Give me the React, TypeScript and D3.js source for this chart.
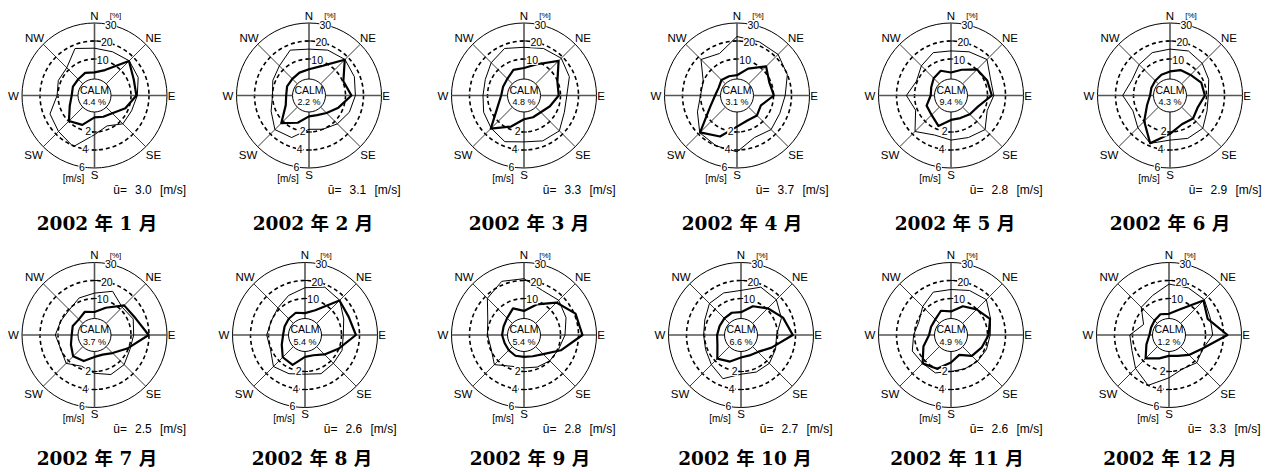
import React from "react";
import * as d3 from "d3";

// 16 compass points, clockwise from north
const DIRECTIONS = ["N", "NNE", "NE", "ENE", "E", "ESE", "SE", "SSE", "S", "SSW", "SW", "WSW", "W", "WNW", "NW", "NNW"];
const AXIS_LABELS = ["N", "NE", "E", "SE", "S", "SW", "W", "NW"];

const YEAR = 2002;
const MONTHS = [1, 2, 3, 4, 5, 6, 7, 8, 9, 10, 11, 12];
const CALM_PCT = [4.4, 2.2, 4.8, 3.1, 9.4, 4.3, 3.7, 5.4, 5.4, 6.6, 4.9, 1.2];
const MEAN_SPEED = ["3.0", "3.1", "3.3", "3.7", "2.8", "2.9", "2.5", "2.6", "2.8", "2.7", "2.6", "3.3"];

// Frequency of occurrence by direction [%]
const freqJan = [2.6, 5.0, 16.8, 13.3, 13.0, 8.3, 3.7, 2.5, 1.9, 7.4, 9.8, 4.6, 2.4, 2.7, 2.5, 3.3];
const freqFeb = [4.3, 7.4, 17.8, 10.4, 13.3, 7.4, 3.5, 1.5, 1.3, 6.1, 11.5, 3.7, 2.4, 2.9, 2.8, 3.5];
const freqMar = [5.0, 8.5, 16.9, 9.8, 9.0, 5.3, 2.9, 2.8, 2.9, 8.4, 15.8, 5.5, 2.4, 2.3, 2.8, 5.1];
const freqApr = [1.0, 5.9, 12.6, 9.1, 10.2, 4.1, 5.4, 4.8, 7.0, 14.4, 18.7, 5.8, 1.9, 0.8, 1.9, 1.3];
const freqMay = [2.5, 5.2, 10.2, 11.5, 12.4, 5.9, 4.5, 3.3, 3.3, 8.0, 5.0, 4.4, 1.0, 1.6, 3.3, 4.6];
const freqJun = [3.1, 5.0, 5.9, 8.5, 9.1, 6.5, 7.8, 7.0, 11.0, 18.5, 10.0, 3.5, 0.8, 0.9, 1.3, 2.2];
const freqJul = [2.5, 6.1, 13.0, 14.3, 19.8, 9.4, 3.9, 1.5, 1.9, 5.4, 6.5, 3.9, 2.4, 2.8, 2.0, 3.7];
const freqAug = [1.9, 4.6, 16.8, 16.0, 18.0, 9.8, 5.0, 1.9, 1.9, 7.7, 7.2, 3.7, 1.9, 2.0, 2.5, 3.1];
const freqSep = [3.1, 8.1, 15.2, 20.7, 22.2, 11.9, 4.8, 2.5, 1.9, 2.2, 1.7, 1.4, 1.9, 2.0, 3.0, 5.7];
const freqOct = [2.4, 7.0, 10.7, 15.0, 18.5, 8.1, 3.0, 2.0, 2.2, 5.7, 8.3, 3.9, 3.0, 2.6, 2.8, 3.1];
const freqNov = [2.8, 7.0, 9.8, 13.2, 10.6, 8.1, 6.1, 1.7, 5.0, 10.0, 12.0, 6.3, 1.9, 1.7, 2.0, 4.3];
const freqDec = [1.5, 5.0, 16.8, 13.0, 22.2, 9.6, 5.4, 2.3, 1.3, 3.8, 8.1, 3.3, 0.6, 0.5, 1.1, 2.2];

// Mean wind speed by direction [m/s]
const speedJan = [3.2, 3.2, 3.4, 3.2, 2.7, 2.4, 2.4, 1.6, 2.3, 4.1, 3.6, 3.3, 2.1, 2.3, 2.3, 3.6];
const speedFeb = [3.1, 3.4, 3.6, 3.4, 3.1, 2.8, 2.4, 2.0, 1.7, 3.0, 3.3, 2.5, 2.0, 2.3, 2.6, 3.4];
const speedMar = [3.3, 3.6, 3.8, 3.4, 2.7, 2.8, 3.5, 3.4, 3.1, 3.5, 3.1, 2.8, 2.5, 2.6, 3.1, 3.6];
const speedApr = [4.5, 4.4, 4.4, 4.0, 3.3, 3.1, 3.3, 3.0, 4.2, 4.0, 3.8, 2.7, 2.0, 2.0, 3.6, 3.0];
const speedMay = [2.9, 3.2, 3.6, 2.7, 2.7, 2.3, 3.3, 3.0, 2.9, 2.7, 3.6, 2.2, 2.9, 2.1, 2.6, 3.1];
const speedJun = [3.1, 3.3, 3.0, 2.6, 2.2, 2.4, 3.1, 3.1, 2.9, 3.7, 3.0, 2.4, 3.2, 2.5, 2.8, 3.1];
const speedJul = [2.6, 3.2, 2.3, 2.6, 2.3, 2.2, 2.6, 2.7, 2.2, 1.7, 2.4, 2.0, 2.3, 2.0, 1.9, 2.4];
const speedAug = [3.2, 3.7, 3.4, 2.6, 2.2, 2.4, 2.4, 2.6, 2.3, 2.6, 2.9, 2.1, 2.2, 2.0, 2.2, 2.7];
const speedSep = [4.2, 3.3, 3.4, 3.0, 2.5, 2.1, 2.0, 1.8, 1.6, 1.7, 2.6, 1.9, 2.0, 2.3, 3.7, 4.4];
const speedOct = [2.9, 3.7, 3.5, 2.8, 1.9, 2.1, 2.4, 2.4, 2.3, 3.2, 2.6, 2.2, 2.1, 2.3, 2.9, 3.0];
const speedNov = [3.0, 3.3, 3.5, 2.7, 2.3, 2.2, 2.1, 2.0, 2.0, 2.5, 2.4, 2.6, 2.1, 1.8, 2.4, 3.1];
const speedDec = [3.6, 3.6, 3.5, 2.9, 2.8, 2.0, 2.3, 2.0, 2.7, 4.0, 3.2, 2.4, 2.3, 1.0, 2.3, 2.7];

const FREQ = [freqJan, freqFeb, freqMar, freqApr, freqMay, freqJun, freqJul, freqAug, freqSep, freqOct, freqNov, freqDec];
const SPEED = [speedJan, speedFeb, speedMar, speedApr, speedMay, speedJun, speedJul, speedAug, speedSep, speedOct, speedNov, speedDec];

const PCT_TICKS = [10, 20, 30];
const SPEED_TICKS = [2, 4, 6];

// Panel layout: rose centres and title positions
const PANEL_X = [
  [94.5, 309, 524, 737, 951, 1170],
  [94.5, 305, 524, 741, 951, 1169],
];
const PANEL_Y = [95.5, 335];
const TITLE_X = [
  [97, 313, 529, 742, 955, 1170],
  [97, 312, 530, 745, 957, 1170],
];
const TITLE_Y = [223, 458];

const WIDTH = 1278;
const HEIGHT = 472;
const R_ZERO = 18.5;
const R_OUTER = 72.5;
const R_CALM = 16.5;

const pctScale = d3.scaleLinear().domain([0, 30]).range([R_ZERO, R_OUTER]);
const speedScale = d3.scaleLinear().domain([0, 6]).range([R_ZERO, R_OUTER]);
const angleScale = d3.scaleLinear().domain([0, DIRECTIONS.length]).range([0, 2 * Math.PI]);

const SANS = "'Liberation Sans', Arial, sans-serif";
const TITLE_FONT = "'DejaVu Serif', 'Noto Sans CJK JP', serif";

function polar(r: number, deg: number): [number, number] {
  const a = (deg * Math.PI) / 180;
  return [r * Math.sin(a), -r * Math.cos(a)];
}

const AXIS_LABEL_POS: Record<string, [number, number]> = {
  N: [0, -80],
  NE: [59, -58],
  E: [77, 0],
  SE: [59, 59],
  S: [0, 79],
  SW: [-61, 59],
  W: [-81, 0],
  NW: [-60, -58],
};

function WindRose({ idx, cx, cy, tx, ty }: { idx: number; cx: number; cy: number; tx: number; ty: number }) {
  const freqLine = d3
    .lineRadial<number>()
    .angle((_, i) => angleScale(i))
    .radius((d) => pctScale(d))
    .curve(d3.curveLinearClosed);
  const speedLine = d3
    .lineRadial<number>()
    .angle((_, i) => angleScale(i))
    .radius((d) => speedScale(d))
    .curve(d3.curveLinearClosed);

  return (
    <g>
      <g transform={`translate(${cx},${cy})`}>
        {/* grid rings */}
        {PCT_TICKS.map((t) => (
          <circle
            key={t}
            r={pctScale(t)}
            fill="none"
            stroke="#000"
            strokeWidth={t === 30 ? 1 : 1.6}
            strokeDasharray={t === 30 ? undefined : "4 3"}
          />
        ))}
        {/* direction axes */}
        {AXIS_LABELS.map((lab, i) => {
          const [x1, y1] = polar(R_CALM, i * 45);
          const [x2, y2] = polar(R_OUTER, i * 45);
          const cardinal = i % 2 === 0;
          return (
            <line
              key={lab}
              x1={x1}
              y1={y1}
              x2={x2}
              y2={y2}
              stroke={cardinal ? "#555" : "#222"}
              strokeWidth={cardinal ? 1.6 : 0.9}
            />
          );
        })}
        {/* mean speed (thin) and frequency (thick) */}
        <path d={speedLine(SPEED[idx]) || ""} fill="none" stroke="#000" strokeWidth={1} strokeLinejoin="round" />
        <path d={freqLine(FREQ[idx]) || ""} fill="none" stroke="#000" strokeWidth={2.2} strokeLinejoin="round" />
        {/* calm circle */}
        <circle r={R_CALM} fill="#fff" stroke="#000" strokeWidth={1} />
        <text x={0} y={-6} textAnchor="middle" dominantBaseline="central" fontFamily={SANS} fontSize={10.5}>
          CALM
        </text>
        <text x={0} y={6.5} textAnchor="middle" dominantBaseline="central" fontFamily={SANS} fontSize={9}>
          {`${CALM_PCT[idx].toFixed(1)} %`}
        </text>
        {/* percent scale on north axis */}
        {PCT_TICKS.map((t) => {
          const [x, y] = polar(pctScale(t), 13);
          return (
            <g key={`p${t}`}>
              {t < 30 && <line x1={-3} x2={3} y1={-pctScale(t)} y2={-pctScale(t)} stroke="#000" strokeWidth={1} />}
              <rect x={x - 6} y={y - 5} width={12} height={10} fill="#fff" />
              <text x={x} y={y} textAnchor="middle" dominantBaseline="central" fontFamily={SANS} fontSize={10.5}>
                {t}
              </text>
            </g>
          );
        })}
        <text x={21} y={-80} textAnchor="middle" dominantBaseline="central" fontFamily={SANS} fontSize={8} fill="#000">
          [%]
        </text>
        {/* speed scale on south axis */}
        {SPEED_TICKS.map((t) => {
          const [x, y] = polar(speedScale(t), 190);
          return (
            <g key={`s${t}`}>
              {t < 6 && <line x1={-3} x2={3} y1={speedScale(t)} y2={speedScale(t)} stroke="#000" strokeWidth={1} />}
              <rect x={x - 3.5} y={y - 5} width={7} height={10} fill="#fff" />
              <text x={x} y={y} textAnchor="middle" dominantBaseline="central" fontFamily={SANS} fontSize={10.5}>
                {t}
              </text>
            </g>
          );
        })}
        <text x={-21} y={83} textAnchor="middle" dominantBaseline="central" fontFamily={SANS} fontSize={10}>
          [m/s]
        </text>
        {/* compass labels */}
        {AXIS_LABELS.map((lab) => {
          const [x, y] = AXIS_LABEL_POS[lab];
          return (
            <text key={`l${lab}`} x={x} y={y} textAnchor="middle" dominantBaseline="central" fontFamily={SANS} fontSize={11.5}>
              {lab}
            </text>
          );
        })}
        {/* mean speed */}
        <g fontFamily={SANS} fontSize={12}>
          <text x={18.8} y={98}>ū=</text>
          <text x={40.5} y={98}>{MEAN_SPEED[idx]}</text>
          <text x={65.5} y={98}>[m/s]</text>
        </g>
      </g>
      {/* month title */}
      <text
        x={tx}
        y={ty}
        textAnchor="middle"
        dominantBaseline="central"
        fontFamily={TITLE_FONT}
        fontWeight="bold"
        fontSize={18.5}
        style={{ whiteSpace: "pre" }}
      >
        {`${YEAR} 年 ${MONTHS[idx]} 月`}
      </text>
    </g>
  );
}

export default function App() {
  return (
    <svg
      width={WIDTH}
      height={HEIGHT}
      viewBox={`0 0 ${WIDTH} ${HEIGHT}`}
      style={{ position: "absolute", left: 0, top: 0, background: "#fff" }}
    >
      <rect width={WIDTH} height={HEIGHT} fill="#fff" />
      {MONTHS.map((m, i) => {
        const row = Math.floor(i / 6);
        const col = i % 6;
        return (
          <WindRose
            key={m}
            idx={i}
            cx={PANEL_X[row][col]}
            cy={PANEL_Y[row]}
            tx={TITLE_X[row][col]}
            ty={TITLE_Y[row]}
          />
        );
      })}
    </svg>
  );
}
